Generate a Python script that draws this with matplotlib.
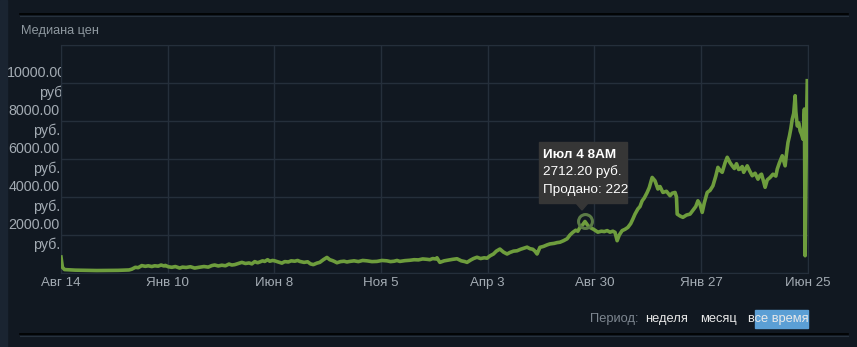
import pandas as pd
import matplotlib.pyplot as plt
from matplotlib.patches import Rectangle, Polygon
from matplotlib.transforms import Bbox

# data (days from start date, median price in rub.)
start_date = '2020-08-14'
days = [0, 2, 5, 20, 50, 80, 95, 99, 104, 108, 113, 118, 122, 127, 131, 136,
        140, 144, 146, 150, 155, 160, 166, 170, 175, 181, 187, 193, 200, 206,
        211, 215, 220, 225, 230, 235, 239, 243, 248, 253, 258, 263, 267, 271,
        275, 278, 282, 285, 289, 292, 296, 299, 304, 309, 313, 318, 322, 327,
        331, 334, 340, 345, 349, 353, 358, 362, 367, 372, 376, 380, 383, 386,
        391, 396, 400, 404, 410, 416, 422, 428, 435, 442, 449, 456, 461, 466,
        470, 474, 481, 488, 494, 500, 506, 512, 516, 520, 524, 526, 530, 536,
        542, 548, 554, 560, 565, 568, 573, 577, 582, 587, 592, 596, 600, 605,
        609, 614, 619, 624, 628, 633, 638, 643, 647, 652, 656, 660, 663, 666,
        670, 675, 680, 684, 690, 694, 698, 703, 708, 712, 716, 720, 723, 726,
        730, 733, 737, 740, 745, 751, 756, 760, 764, 768, 772, 775, 778, 781,
        785, 789, 793, 797, 800, 803, 807, 810, 813, 816, 820, 823, 827, 831,
        835, 838, 842, 847, 852, 855, 859, 861, 862, 866, 870, 875, 880, 885,
        888, 891, 894, 897, 900, 904, 908, 912, 916, 919, 922, 925, 929, 932,
        936, 939, 942, 945, 948, 950, 953, 955, 958, 960, 963, 967, 971, 975,
        978, 980, 983, 985, 988, 992, 996, 1000, 1002, 1005, 1009, 1011, 1013,
        1015, 1017, 1019, 1021, 1023, 1025, 1027, 1028, 1030, 1032, 1034, 1036,
        1038, 1039, 1040, 1041, 1043, 1044]
prices = [840, 300, 180, 150, 130, 140, 160, 200, 300, 280, 390, 350, 380,
          340, 380, 360, 420, 370, 400, 330, 300, 340, 260, 310, 290, 330,
          260, 300, 340, 310, 390, 420, 370, 410, 380, 470, 420, 440, 500,
          560, 500, 530, 480, 600, 540, 580, 640, 610, 700, 620, 660, 640,
          580, 520, 600, 580, 640, 620, 660, 610, 560, 590, 480, 440, 520,
          560, 700, 820, 700, 650, 600, 540, 600, 620, 580, 610, 640, 600,
          660, 640, 600, 610, 660, 640, 600, 620, 660, 610, 650, 670, 700,
          690, 740, 720, 700, 760, 740, 800, 560, 640, 680, 720, 750, 640,
          600, 560, 680, 760, 830, 760, 800, 780, 900, 1000, 1150, 1260, 1100,
          1000, 1080, 1150, 1170, 1250, 1300, 1360, 1280, 1250, 1150, 1000,
          1350, 1400, 1480, 1530, 1560, 1600, 1620, 1700, 1800, 2000, 2140,
          2250, 2200, 2400, 2550, 2712, 2500, 2400, 2300, 2150, 2200, 2180,
          2230, 2150, 2200, 2140, 1700, 2000, 2230, 2300, 2400, 2600, 2840,
          3100, 3370, 3500, 3800, 3950, 4240, 4500, 5030, 4850, 4420, 4550,
          4240, 4300, 4070, 4200, 4240, 4000, 3100, 3000, 2930, 3050, 3100,
          3350, 3500, 3800, 3600, 3190, 3700, 4240, 4350, 4590, 5100, 5560,
          5400, 5300, 5800, 6090, 5800, 5640, 5500, 5750, 5450, 5470, 5600,
          5300, 5500, 5640, 5400, 5120, 5250, 4940, 5150, 5200, 4800, 4510,
          4900, 5030, 5200, 5100, 5470, 5800, 6170, 5900, 5640, 6300, 6870,
          7200, 7600, 8100, 8400, 9330, 8500, 7740, 7900, 7480, 7300, 7040,
          7800, 8630, 910, 8000, 10120]

tick_dates = ['2020-08-14', '2021-01-10', '2021-06-08', '2021-11-05',
              '2022-04-03', '2022-08-30', '2023-01-27', '2023-06-25']
tick_labels = ['Авг 14', 'Янв 10', 'Июн 8', 'Ноя 5', 'Апр 3', 'Авг 30',
               'Янв 27', 'Июн 25']
y_ticks = [2000, 4000, 6000, 8000, 10000]

tip_day = 733
tip_price = 2712.20
tip_lines = ['Июл 4 8AM', '2712.20 руб.', 'Продано: 222']

W, H = 857, 347
bg = '#111821'
grid_c = '#252f3b'
plt.rcParams['font.family'] = ['Liberation Sans', 'DejaVu Sans']

def fx(px):
    return px / W

def fy(py):
    return 1 - py / H

fig = plt.figure(figsize=(W / 100, H / 100), dpi=100, facecolor=bg)

# left strip and separator lines
fig.patches.append(Rectangle((0, 0), fx(7), 1, transform=fig.transFigure,
                             color='#1a2431', zorder=0))
for yy in (14, 334):
    fig.add_artist(plt.Line2D([fx(20), fx(848)], [fy(yy), fy(yy)],
                              color='#000000', lw=1.2))
    fig.add_artist(plt.Line2D([fx(20), fx(848)], [fy(yy + 1.5), fy(yy + 1.5)],
                              color='#26313d', lw=0.8))

fig.text(fx(21), fy(31), 'Медиана цен', color='#8f98a0', fontsize=9.2,
         va='center', ha='left')

ax = fig.add_axes([fx(61), fy(273), (808 - 61) / W, (273 - 45) / H])
ax.set_facecolor(bg)
tick_pos = [(pd.Timestamp(d) - pd.Timestamp(start_date)).days for d in tick_dates]

ax.plot(days, prices, color='#6e9d3d', lw=2.6, solid_joinstyle='round', zorder=3)
ax.set_xlim(0, tick_pos[-1])
ax.set_ylim(0, 12000)
ax.set_xticks(tick_pos)
ax.set_xticklabels(tick_labels, color='#a3abb3', fontsize=9.6)
ax.set_yticks([0] + y_ticks + [12000])
ax.set_yticklabels([])
ax.tick_params(length=0, pad=3)
ax.grid(color=grid_c, lw=1)
for s in ax.spines.values():
    s.set_color(grid_c)

# y labels, clipped at the plot edge like the original
clip = Bbox([[0, 0], [61, H]])
fig.canvas.draw()
for v in y_ticks:
    ypix = 273 - v / 12000 * 228
    t = fig.text(fx(60), fy(ypix), f'{v:.2f}\nруб.', ha='right', va='center',
                 multialignment='right', color='#a3abb3', fontsize=10.3,
                 linespacing=1.4)
    ext = t.get_window_extent(fig.canvas.get_renderer())
    if ext.x0 < 7:
        t.set_x(fx(60 + 7 - ext.x0))
    t.set_clip_on(True)
    t.set_clip_box(clip)

# hover marker and tooltip
ax.plot([tip_day], [tip_price], marker='o', ms=10, mfc='none', mec='#5b7b46',
        mew=2.2, zorder=4)
fig.patches.append(Rectangle((fx(539), fy(203)), fx(627) - fx(539),
                             fy(142) - fy(203), transform=fig.transFigure,
                             color='#363636', zorder=5))
fig.patches.append(Polygon([(fx(576), fy(203)), (fx(588), fy(203)),
                            (fx(582), fy(210))], transform=fig.transFigure,
                           color='#363636', zorder=5))
for i, (s, yy) in enumerate(zip(tip_lines, (155, 172, 190))):
    fig.text(fx(543), fy(yy), s, color='#ffffff', fontsize=9.7, va='center',
             ha='left', fontweight='bold' if i == 0 else 'normal', zorder=6)

# period selector
fig.patches.append(Rectangle((fx(755), fy(328)), fx(808) - fx(755),
                             fy(310) - fy(328), transform=fig.transFigure,
                             color='#5b9fd5', zorder=1))
fig.text(fx(590), fy(319), 'Период:', color='#7d8690', fontsize=9.3, va='center')
fig.text(fx(645), fy(319), 'неделя', color='#e8e8e8', fontsize=9.3, va='center')
fig.text(fx(700), fy(319), 'месяц', color='#e8e8e8', fontsize=9.3, va='center')
fig.text(fx(748), fy(319), 'все время', color='#e8e8e8', fontsize=9.3,
         va='center', zorder=2)

fig.savefig('out.png', dpi=100, facecolor=bg)
